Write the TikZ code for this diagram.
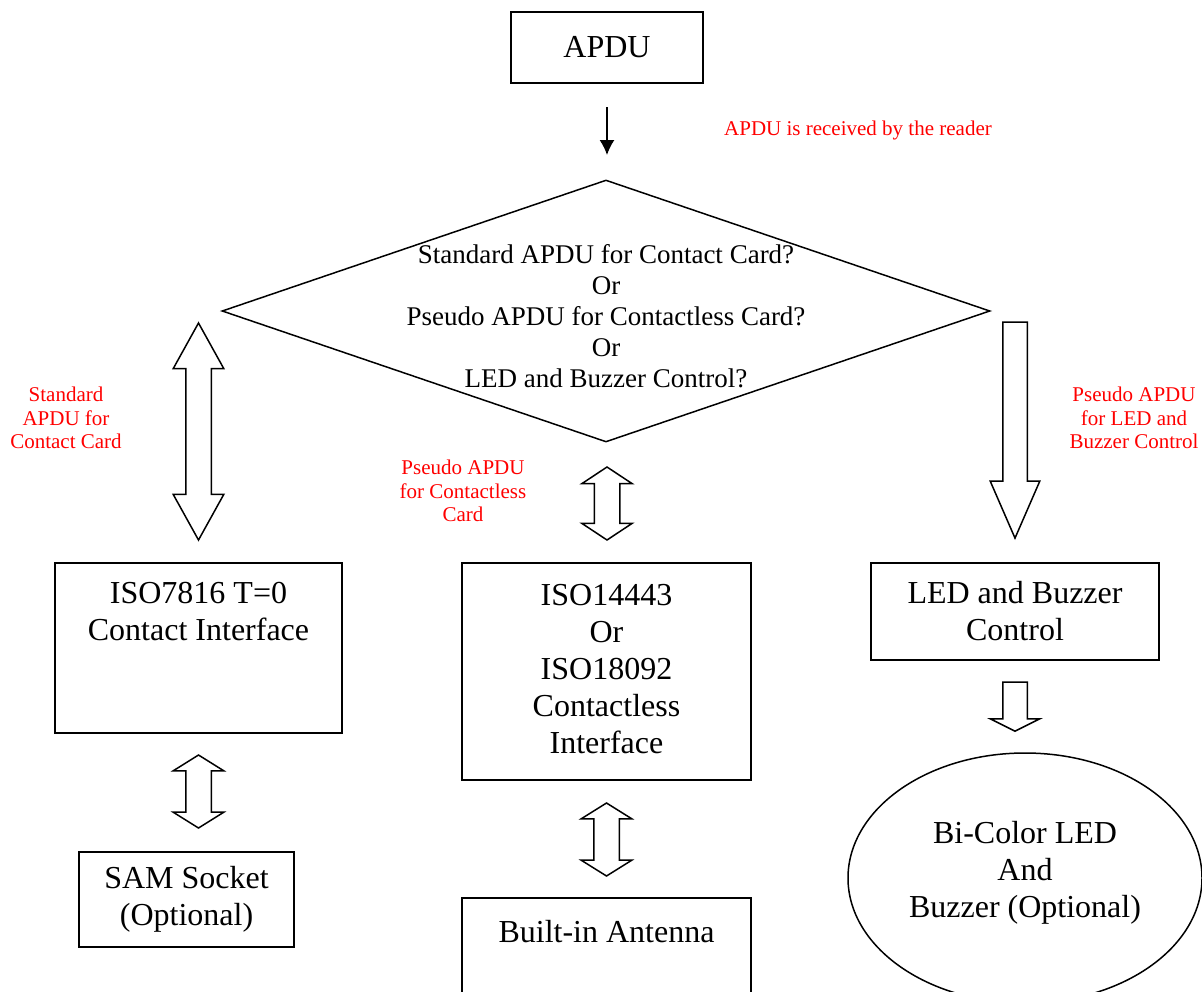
\documentclass[tikz,border=0pt]{standalone}
\usepackage{fontspec}
\setmainfont{Liberation Serif}
\usetikzlibrary{shapes.geometric,shapes.arrows,arrows.meta}

\begin{document}
\begin{tikzpicture}[x=1pt,y=-1pt,
box/.style={draw, line width=1.5pt, align=center, inner sep=0pt,
  font=\fontsize{32}{37}\selectfont},
note/.style={text=red, align=center, font=\fontsize{21}{23.5}\selectfont},
dblarrow/.style={draw, line width=1.5pt, shape=double arrow, rotate=90,
  inner xsep=0pt, inner ysep=12pt, double arrow head extend=12.5pt},
onearrow/.style={draw, line width=1.5pt, shape=single arrow, rotate=-90,
  inner xsep=0pt, inner ysep=11.5pt, single arrow head extend=12.5pt, anchor=tip}]
\useasboundingbox (0,0) rectangle (1202,991);
\clip (0,0) rectangle (1202,991);

% top of the chart
\node[box, minimum width=192pt, minimum height=71pt] (apdu) at (607,47.5) {APDU};
\coordinate (recvtop) at (607,107);
\coordinate (recvend) at (607,155);
\draw[line width=1.5pt, -{Latex[length=15pt,width=15pt]}] (recvtop) -- (recvend);
\node[note] (recvnote) at (858,130) {APDU is received by the reader};

\node[draw, line width=1.5pt, diamond, inner sep=0pt,
  minimum width=768pt, minimum height=262pt] (query) at (606,311) {};
\node[align=center, font=\fontsize{27}{31}\selectfont] (querytext) at (606,316)
  {Standard APDU for Contact Card?\\Or\\Pseudo APDU for Contactless Card?\\Or\\LED and Buzzer Control?};

% block arrows
\node[dblarrow, minimum height=217pt, double arrow tip angle=58] (contactlink) at (198.5,431.5) {};
\node[dblarrow, minimum height=73pt, double arrow tip angle=113] (rflink) at (607,503.5) {};
\node[onearrow, minimum height=216pt, single arrow tip angle=47] (ledlink) at (1015,540) {};
\node[dblarrow, minimum height=73pt, double arrow tip angle=116] (samlink) at (198.5,791.5) {};
\node[dblarrow, minimum height=73pt, double arrow tip angle=116] (antlink) at (606.5,839.5) {};
\node[onearrow, minimum height=49pt, single arrow tip angle=127] (buzzlink) at (1015,732) {};

\node[note] (contactnote) at (66,418) {Standard\\APDU for\\Contact Card};
\node[note] (rfnote) at (463,491) {Pseudo APDU\\for Contactless\\Card};
\node[note] (lednote) at (1134,418) {Pseudo APDU\\for LED and\\Buzzer Control};

% interfaces
\node[box, minimum width=287pt, minimum height=170pt] (contact) at (198.5,648)
  {ISO7816 T=0\\Contact Interface\\~\\~};
\node[box, minimum width=289pt, minimum height=217pt] (contactless) at (606.5,671.5)
  {ISO14443\\Or\\ISO18092\\Contactless\\Interface\\[-31pt]};
\node[box, minimum width=288pt, minimum height=97pt] (ledctrl) at (1015,611.5)
  {LED and Buzzer\\Control};

% devices
\node[box, minimum width=215pt, minimum height=95pt] (sam) at (186.5,899.5)
  {SAM Socket\\(Optional)};
\node[box, minimum width=289pt, minimum height=140pt] (antenna) at (606.5,968)
  {Built-in Antenna\\~\\~};
\node[draw, line width=1.5pt, ellipse, align=center, inner sep=0pt,
  minimum width=354pt, minimum height=250pt,
  font=\fontsize{32}{37}\selectfont] (bicolor) at (1025,878)
  {Bi-Color LED\\And\\Buzzer (Optional)\\[-19pt]};
\end{tikzpicture}
\end{document}
